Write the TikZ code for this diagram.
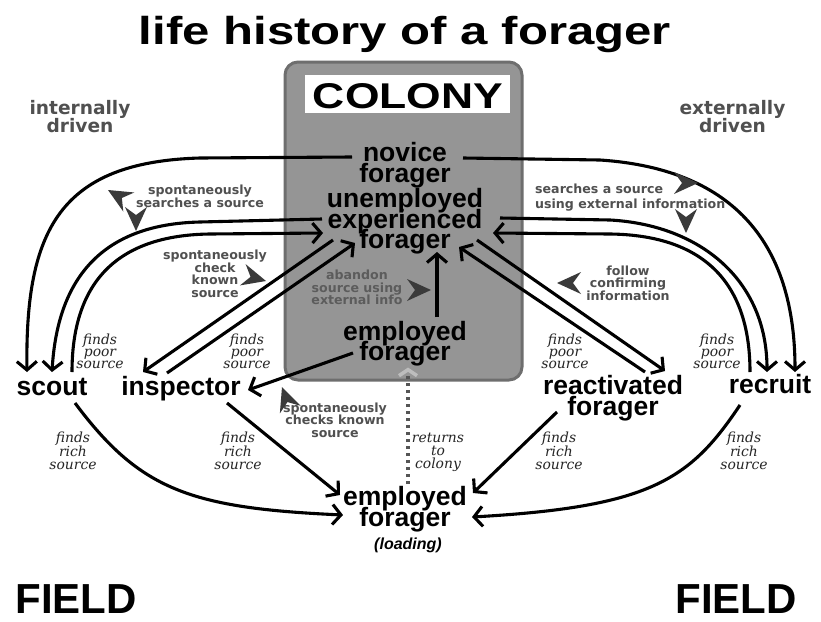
\documentclass[tikz,border=0pt]{standalone}
\usepackage{fontspec}
\usepackage{graphicx}
\usetikzlibrary{arrows.meta}
\newfontfamily\lsans{Liberation Sans}
\newfontfamily\dsans{DejaVu Sans}
\newfontfamily\dserif{DejaVu Serif}
\definecolor{boxfill}{HTML}{959595}
\definecolor{boxline}{HTML}{6E6E6E}
\definecolor{lblgray}{HTML}{505050}
\definecolor{abgray}{HTML}{5C5C5C}
\definecolor{mkgray}{HTML}{3A3A3A}
\definecolor{dotgray}{HTML}{555555}
\definecolor{chev}{HTML}{BDBDBD}
\newcommand\fstage{\lsans\bfseries\fontsize{26.5}{20.5}\selectfont\lineskiplimit=-100pt\relax}
\newcommand\fglab{\dsans\bfseries\fontsize{12.6}{12.5}\selectfont\lineskiplimit=-100pt\relax}
\newcommand\fdrive{\dsans\bfseries\fontsize{18.6}{18}\selectfont\lineskiplimit=-100pt\relax}
\newcommand\fital{\dserif\itshape\fontsize{13.9}{12}\selectfont\lineskiplimit=-100pt\relax}
\newcommand\ffield{\lsans\bfseries\fontsize{42}{42}\selectfont}
\begin{document}
\begin{tikzpicture}[x=1pt,y=-1pt,
  stage/.style={inner sep=0pt, align=center, font=\fstage},
  glabel/.style={inner sep=0pt, align=center, font=\fglab, text=lblgray},
  dlabel/.style={inner sep=0pt, align=center, font=\fdrive, text=lblgray},
  ilabel/.style={inner sep=0pt, align=center, font=\fital, text=black!85},
  conn/.style={draw=black, line width=3.1pt, -{Straight Barb[length=8.5pt,width=20pt]}},
  dotline/.style={draw=dotgray, line width=3.6pt, dash pattern=on 3.5pt off 3.5pt,
     -{Straight Barb[length=6pt,width=18pt,color=chev]}},
  mk/.pic={\fill[mkgray] (0,0) -- (-24,-11) -- (-16,0) -- (-24,11) -- cycle;}
]
\fill[white] (0,0) rectangle (821,621);
\useasboundingbox (0,0) rectangle (821,621);

% title
\node[anchor=base, inner sep=0pt] (title) at (405,44)
  {\resizebox{532pt}{\height}{\lsans\bfseries\fontsize{39}{39}\selectfont life history of a forager}};

% colony box
\node[draw=boxline, fill=boxfill, line width=3pt, rounded corners=13pt,
      minimum width=237pt, minimum height=318pt, inner sep=0pt] (colony) at (403.5,221) {};
\fill[white] (305,75) rectangle (510,113);
\node[anchor=base, inner sep=0pt] (coltxt) at (408,108.5)
  {\resizebox{190pt}{25pt}{\lsans\bfseries COLONY}};

% stage nodes
\node[stage] (nov) at (405,165) {novice\\forager};
\node[stage] (uef) at (405,221.5) {unemployed\\experienced\\forager};
\node[stage] (empc) at (405,343.5) {employed\\forager};
\node[stage] (empl) at (405,509) {employed\\forager};
\node[anchor=base, inner sep=0pt, font=\lsans\bfseries\itshape\fontsize{16}{16}\selectfont] (loadlbl) at (408,549) {(loading)};
\node[stage, anchor=base] (scout) at (52,395) {scout};
\node[stage, anchor=base] (insp) at (181,395) {inspector};
\node[stage] (react) at (613,398) {reactivated\\forager};
\node[stage, anchor=base] (recr) at (770,393) {recruit};

% field labels
\node[anchor=base, inner sep=0pt, font=\ffield] (fieldl) at (76,613) {FIELD};
\node[anchor=base, inner sep=0pt, font=\ffield] (fieldr) at (736,613) {FIELD};

% driven labels
\node[dlabel] (intd) at (80,117) {internally\\driven};
\node[dlabel] (extd) at (732.5,117) {externally\\driven};

% connectors: colony <-> scout
\draw[conn] ([shift={(-53,-8)}]nov.center) -- (200,158) .. controls (60,162) and (25,230) .. ([shift={(-25,-23)}]scout.base);
\draw[conn] ([shift={(-83,-2.5)}]uef.center) -- (200,222) .. controls (110,224) and (58,270) .. ([shift={(0,-23)}]scout.base);
\draw[conn] ([shift={(20,-23)}]scout.base) .. controls (72,270) and (130,235) .. (210,234) -- ([shift={(-82,11.5)}]uef.center);
% colony <-> recruit
\draw[conn] ([shift={(58,-7)}]nov.center) -- (600,160) .. controls (720,168) and (795,230) .. ([shift={(25,-21)}]recr.base);
\draw[conn] ([shift={(95,-3.5)}]uef.center) -- (610,220) .. controls (700,225) and (767,280) .. ([shift={(-3,-21)}]recr.base);
\draw[conn] ([shift={(-20,-21)}]recr.base) .. controls (750,270) and (690,235) .. (610,234) -- ([shift={(88,11.5)}]uef.center);
% colony <-> inspector
\draw[conn] ([shift={(-72,18.5)}]uef.center) -- ([shift={(-38,-23)}]insp.base);
\draw[conn] ([shift={(-14,-22)}]insp.base) -- ([shift={(-50,21.5)}]uef.center);
% colony <-> reactivated
\draw[conn] ([shift={(72,18.5)}]uef.center) -- ([shift={(52,-27)}]react.center);
\draw[conn] ([shift={(32,-26)}]react.center) -- ([shift={(54,25.5)}]uef.center);
% inside colony
\draw[conn] ([shift={(32,-26.5)}]empc.center) -- ([shift={(32,30.5)}]uef.center);
\draw[conn] ([shift={(-52,9.5)}]empc.center) -- ([shift={(67,-5)}]insp.base);
% returns to colony
\draw[dotline] ([shift={(3,-25)}]empl.center) -- ([shift={(4.5,-14)}]colony.south);
% to employed forager (loading)
\draw[conn] ([shift={(23,8)}]scout.base) .. controls (140,490) and (190,508) .. ([shift={(-62,6)}]empl.center);
\draw[conn] ([shift={(46,8)}]insp.base) -- ([shift={(-65,-14)}]empl.center);
\draw[conn] ([shift={(-56,14)}]react.center) -- ([shift={(68,-16)}]empl.center);
\draw[conn] ([shift={(-30,12)}]recr.base) .. controls (690,480) and (650,507) .. ([shift={(67,8)}]empl.center);

% gray labels
\node[glabel] (lsearch) at (200,196.2) {spontaneously\\searches a source};
\node[glabel] (lcheck) at (215,274) {spontaneously\\check\\known\\source};
\node[glabel] (lchecks) at (335,420.2) {spontaneously\\checks known\\source};
\node[glabel, anchor=west, align=left] (lext) at (535,197.5) {searches a source\\[3pt]using external information};
\node[glabel] (lfollow) at (628,283.2) {follow\\confirming\\information};
\node[glabel, text=abgray] (laband) at (357,287.7) {abandon\\source using\\external info};

% italic labels
\node[ilabel] (fp1) at (100,351.4) {finds\\poor\\source};
\node[ilabel] (fp2) at (247,351.4) {finds\\poor\\source};
\node[ilabel] (fp3) at (565,351.4) {finds\\poor\\source};
\node[ilabel] (fp4) at (717,351.4) {finds\\poor\\source};
\node[ilabel] (fr1) at (73,450.9) {finds\\[1.5pt]rich\\[1.5pt]source};
\node[ilabel] (fr2) at (238,450.9) {finds\\[1.5pt]rich\\[1.5pt]source};
\node[ilabel] (fr3) at (559,450.9) {finds\\[1.5pt]rich\\[1.5pt]source};
\node[ilabel] (fr4) at (744,450.9) {finds\\[1.5pt]rich\\[1.5pt]source};
\node[ilabel] (rtc) at (438,452) {returns\\[1pt]to\\[1pt]colony};

% direction markers
\pic[rotate=150] at (108,190) {mk};
\pic[rotate=-90] at (136,231) {mk};
\pic[rotate=-15] at (266,281) {mk};
\pic[rotate=110] at (282,387) {mk};
\pic[rotate=0] at (698,183) {mk};
\pic[rotate=-90] at (686,233) {mk};
\pic[rotate=180] at (557,283) {mk};
\pic[rotate=0] at (431,290) {mk};
\end{tikzpicture}
\end{document}
